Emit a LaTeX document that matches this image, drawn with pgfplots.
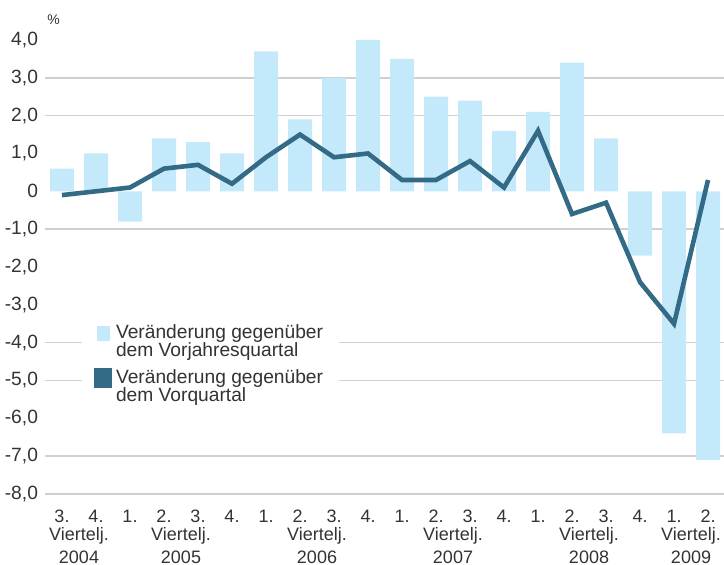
\documentclass[border=0pt]{standalone}
\usepackage{pgfplots}
\pgfplotsset{compat=1.18}
\usepackage{fontspec}
\setmainfont{Liberation Sans}
\definecolor{barblue}{HTML}{C4E9FB}
\definecolor{linecol}{HTML}{336A85}
\definecolor{gridgray}{HTML}{D0D0D0}
\definecolor{txt}{HTML}{333333}
\begin{document}
\begin{tikzpicture}
\begin{axis}[
  at={(22.5pt,35pt)}, anchor=south west,
  scale only axis, width=339.5pt, height=232.7pt,
  xmin=-0.5, xmax=19.47, ymin=-8, ymax=4.3,
  clip mode=individual,
  axis line style={draw=none},
  major tick length=0pt,
  /pgf/number format/assume math mode=true,
  ytick={-8,-7,-6,-5,-4,-3,-2,-1,0,1,2,3,4},
  yticklabels={{-8,0},{-7,0},{-6,0},{-5,0},{-4,0},{-3,0},{-2,0},{-1,0},0,{1,0},{2,0},{3,0},{4,0}},
  yticklabel style={font=\fontsize{9.6}{10}\selectfont, text=txt},
  xtick={0,1,...,19},
  xticklabels={3.,4.,1.,2.,3.,4.,1.,2.,3.,4.,1.,2.,3.,4.,1.,2.,3.,4.,1.,2.},
  xticklabel style={font=\fontsize{9}{10}\selectfont, text=txt, anchor=base, yshift=-14pt},
  extra x ticks={0.5,3.5,7.5,11.5,15.5,18.5},
  extra x tick labels={{Viertelj.\\2004},{Viertelj.\\2005},{Viertelj.\\2006},{Viertelj.\\2007},{Viertelj.\\2008},{Viertelj.\\2009}},
  extra x tick style={xticklabel style={align=center, font=\fontsize{9}{11.5}\selectfont, yshift=-20.5pt}},
  extra y ticks={3,2,-1,-4,-5,-7,-8},
  extra y tick labels={},
  extra y tick style={ymajorgrids=true, major grid style={gridgray, line width=0.7pt}},
  legend style={at={(rel axis cs:0.0545,0.382)}, anchor=north west, draw=none, fill=white,
    font=\fontsize{9.6}{9}\selectfont, text=txt, cells={anchor=base west, align=left},
    inner xsep=6pt, inner ysep=2pt, row sep=1pt},
]
\addplot[ybar, bar width=12pt, bar shift=0pt, fill=barblue, draw=none, area legend,
  legend image code/.code={\fill[barblue] (0pt,8pt) rectangle (6.5pt,15.5pt);}]
  coordinates {(0,0.6) (1,1.0) (2,-0.8) (3,1.4) (4,1.3) (5,1.0) (6,3.7) (7,1.9) (8,3.0) (9,4.0)
  (10,3.5) (11,2.5) (12,2.4) (13,1.6) (14,2.1) (15,3.4) (16,1.4) (17,-1.7) (18,-6.4) (19,-7.1)};
\addlegendentry{Veränderung gegenüber\\dem Vorjahresquartal}
\addplot[linecol, line width=2.3pt,
  legend image code/.code={\fill[linecol] (0pt,8pt) rectangle (6.5pt,15.5pt);}]
  coordinates {(0,-0.1) (1,0.0) (2,0.1) (3,0.6) (4,0.7) (5,0.2) (6,0.9) (7,1.5) (8,0.9) (9,1.0)
  (10,0.3) (11,0.3) (12,0.8) (13,0.1) (14,1.6) (15,-0.6) (16,-0.3) (17,-2.4) (18,-3.5) (19,0.3)};
\addlegendentry{Veränderung gegenüber\\dem Vorquartal}
\node[anchor=south west, font=\fontsize{7}{8}\selectfont, text=txt, inner sep=0pt] at (rel axis cs:0,1) [xshift=1pt, yshift=2pt] {\%};
\end{axis}
\pgfresetboundingbox
\useasboundingbox (0,0) rectangle (362pt,282pt);
\end{tikzpicture}
\end{document}
